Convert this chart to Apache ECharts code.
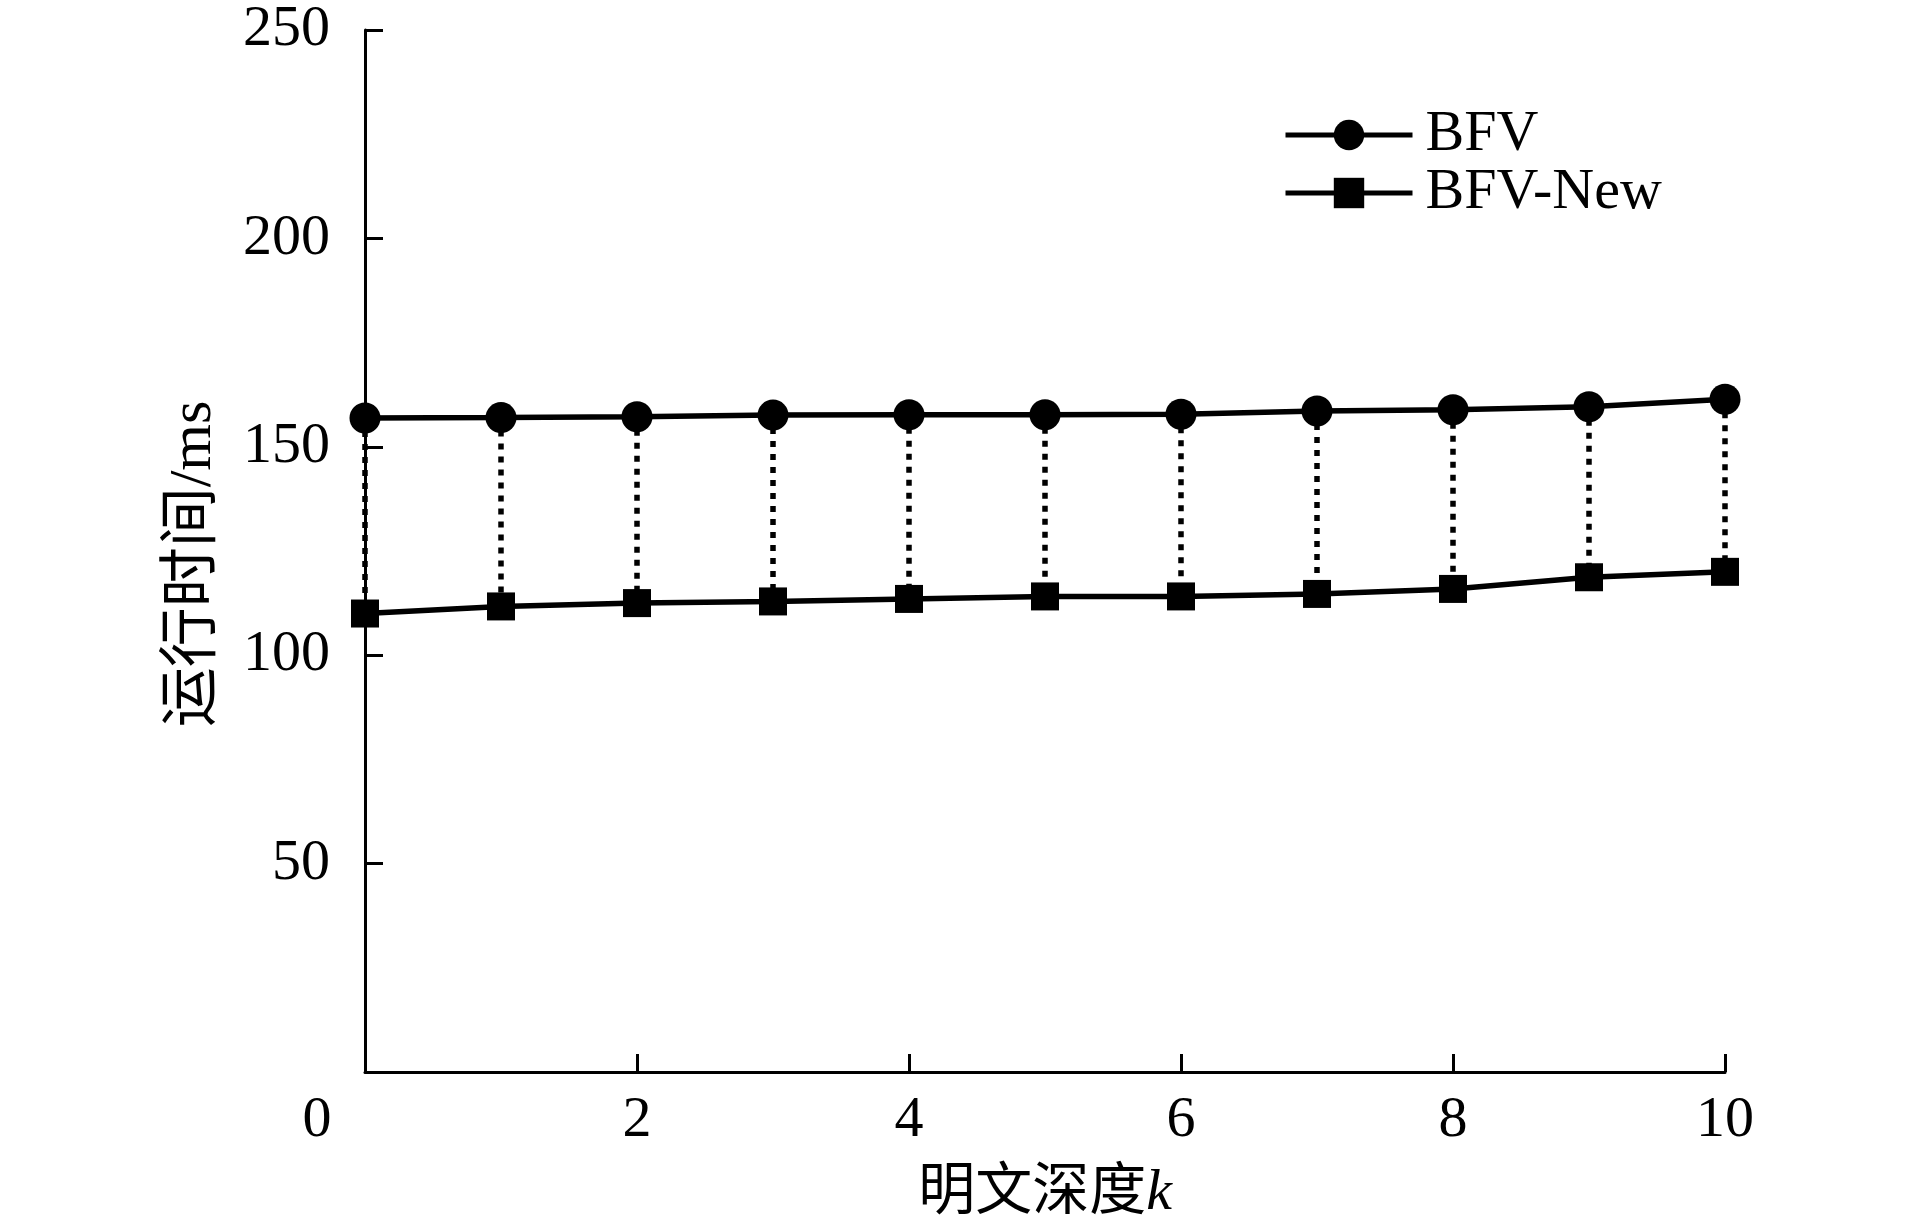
<!DOCTYPE html>
<html>
<head>
<meta charset="utf-8">
<script src="https://cdn.jsdelivr.net/npm/echarts@6/dist/echarts.min.js"></script>
<style>
html,body{margin:0;padding:0;background:#fff;}
#main{width:1913px;height:1228px;}
</style>
</head>
<body>
<div id="main"></div>
<script>
// Data
const depthK = [0, 1, 2, 3, 4, 5, 6, 7, 8, 9, 10];
const bfv = [156.9, 157.0, 157.2, 157.6, 157.7, 157.7, 157.8, 158.6, 158.9, 159.6, 161.4];
const bfvNew = [110.0, 111.7, 112.5, 112.9, 113.5, 114.1, 114.1, 114.7, 115.9, 118.7, 120.0];
const seriesNames = ['BFV', 'BFV-New'];
const xTitle = '明文深度';
const xTitleVar = 'k';
const yTitle = '运行时间/ms';

const serif = '"Liberation Serif", "DejaVu Serif", "Noto Sans CJK SC", serif';
const cjk = '"Liberation Serif", "Noto Sans CJK SC", serif';

const chart = echarts.init(document.getElementById('main'), null, {renderer: 'canvas'});

const pairData = depthK.map((k, i) => [k, bfv[i], bfvNew[i]]);

const option = {
  backgroundColor: '#ffffff',
  animation: false,
  grid: {left: 365, right: 188, top: 30, bottom: 151, containLabel: false},
  legend: {
    orient: 'vertical',
    left: 1283,
    top: 106,
    padding: 0,
    itemWidth: 127,
    itemHeight: 38,
    itemGap: 0,
    data: seriesNames,
    lineStyle: {width: 5, color: '#000'},
    textStyle: {fontFamily: serif, fontSize: 58, color: '#000', padding: [0, 0, 0, 8]}
  },
  xAxis: {
    type: 'value',
    min: 0, max: 10, interval: 2,
    name: xTitle + '{i|' + xTitleVar + '}',
    nameLocation: 'middle',
    nameGap: 93,
    nameTextStyle: {
      fontFamily: cjk, fontSize: 57, color: '#000',
      rich: {i: {fontFamily: serif, fontStyle: 'italic', fontSize: 58, color: '#000'}}
    },
    axisLine: {show: true, onZero: false, lineStyle: {color: '#000', width: 3}},
    axisTick: {show: true, inside: true, length: 18, lineStyle: {color: '#000', width: 3}},
    splitLine: {show: false},
    axisLabel: {
      fontFamily: serif, fontSize: 58, color: '#000', margin: 20,
      formatter: function (v) { return v === 0 ? '{z|0}' : String(v); },
      rich: {z: {fontFamily: serif, fontSize: 58, color: '#000', padding: [0, 96, 0, 0]}}
    }
  },
  yAxis: {
    type: 'value',
    min: 0, max: 250, interval: 50,
    name: yTitle,
    nameLocation: 'middle',
    nameGap: 141,
    nameRotate: 90,
    nameTextStyle: {fontFamily: cjk, fontSize: 60, color: '#000', padding: [0, 26, 0, 0]},
    axisLine: {show: true, lineStyle: {color: '#000', width: 3}},
    axisTick: {show: true, inside: true, length: 18, lineStyle: {color: '#000', width: 3}},
    splitLine: {show: false},
    axisLabel: {
      fontFamily: serif, fontSize: 58, color: '#000', margin: 35,
      formatter: function (v) { return v === 0 ? '' : String(v); }
    }
  },
  series: [
    {
      type: 'custom',
      name: 'pairs',
      z: 1,
      silent: true,
      data: pairData,
      renderItem: function (params, api) {
        const p1 = api.coord([api.value(0), api.value(1)]);
        const p2 = api.coord([api.value(0), api.value(2)]);
        return {
          type: 'line',
          shape: {x1: p1[0], y1: p1[1], x2: p2[0], y2: p2[1]},
          style: {stroke: '#000', lineWidth: 5.5, lineDash: [6, 7], lineCap: 'butt'}
        };
      }
    },
    {
      type: 'line',
      name: seriesNames[0],
      z: 3,
      data: depthK.map((k, i) => [k, bfv[i]]),
      symbol: 'circle',
      symbolSize: 31,
      itemStyle: {color: '#000'},
      lineStyle: {color: '#000', width: 5.5}
    },
    {
      type: 'line',
      name: seriesNames[1],
      z: 3,
      data: depthK.map((k, i) => [k, bfvNew[i]]),
      symbol: 'rect',
      symbolSize: 28,
      itemStyle: {color: '#000'},
      lineStyle: {color: '#000', width: 5.5}
    }
  ]
};
chart.setOption(option);
</script>
</body>
</html>
